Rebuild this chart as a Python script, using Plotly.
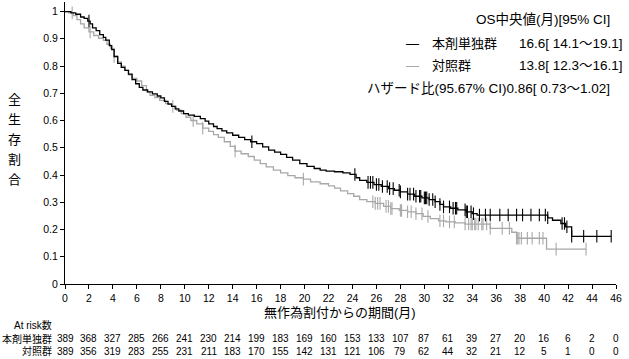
import numpy as np
import plotly.graph_objects as go

FONT = "Liberation Sans, Arial, Noto Sans CJK JP, sans-serif"

# --- Kaplan-Meier step points ---
months_a = [0, 0.5, 0.9, 1.3, 1.6, 1.9, 2.1, 2.3, 2.6, 2.9, 3.2, 3.4, 3.7, 3.9, 4.1, 4.4, 4.7,
            5.0, 5.3, 5.6, 5.9, 6.2, 6.5, 6.9, 7.3, 7.7, 8.0, 8.3, 8.6, 8.9, 9.2, 9.5, 9.9,
            10.3, 10.8, 11.3, 11.7, 12.0, 12.4, 12.7, 13.1, 13.5, 14.0, 14.5, 15.0, 15.5,
            16.0, 16.5, 17.0, 17.5, 18.0, 18.5, 19.0, 19.6, 20.2, 20.8, 21.3, 21.8, 22.5,
            23.2, 23.8, 24.3, 24.6, 25.2, 25.8, 26.4, 27.0, 27.5, 28.0, 28.6, 29.2, 29.8,
            30.4, 30.9, 31.3, 31.6, 32.2, 32.8, 33.5, 34.0, 34.4, 40.3, 40.7, 41.4, 41.8,
            42.3, 45.6]
surv_a = [1.0, 0.995, 0.99, 0.98, 0.975, 0.965, 0.955, 0.94, 0.93, 0.915, 0.905, 0.895,
          0.875, 0.86, 0.835, 0.81, 0.795, 0.784, 0.77, 0.75, 0.735, 0.722, 0.712, 0.705,
          0.698, 0.69, 0.683, 0.67, 0.66, 0.652, 0.643, 0.635, 0.625, 0.62, 0.615, 0.607,
          0.598, 0.588, 0.578, 0.57, 0.562, 0.555, 0.546, 0.538, 0.53, 0.522, 0.515, 0.503,
          0.491, 0.484, 0.476, 0.465, 0.455, 0.442, 0.432, 0.424, 0.418, 0.414, 0.412,
          0.408, 0.402, 0.39, 0.38, 0.373, 0.365, 0.358, 0.35, 0.344, 0.338, 0.33, 0.322,
          0.316, 0.31, 0.302, 0.292, 0.283, 0.278, 0.272, 0.265, 0.258, 0.253, 0.243,
          0.234, 0.222, 0.21, 0.175, 0.175]
censor_a = [2.0, 15.6, 24.2, 25.3, 25.5, 25.7, 26.0, 26.2, 26.5, 26.9, 27.1, 27.4, 27.9,
            28.0, 28.6, 28.8, 29.1, 29.3, 29.6, 29.7, 30.0, 30.1, 30.2, 30.4, 30.7, 30.9,
            31.3, 31.6, 32.1, 32.4, 32.6, 32.7, 33.4, 33.5, 33.6, 33.9, 34.1, 34.6, 35.1,
            35.5, 36.3, 37.0, 37.7, 38.2, 38.9, 39.6, 40.1, 40.3, 41.5, 41.7, 41.9, 42.3,
            43.3, 44.4, 45.6]

months_b = [0, 0.3, 0.7, 1.0, 1.3, 1.6, 2.0, 2.4, 2.8, 3.2, 3.5, 3.8, 4.1, 4.4, 4.7, 5.0,
            5.3, 5.6, 6.0, 6.4, 6.8, 7.1, 7.5, 7.9, 8.4, 8.9, 9.3, 9.7, 10.1, 10.5, 11.0,
            11.5, 12.0, 12.4, 12.8, 13.3, 13.8, 14.2, 14.7, 15.3, 15.8, 16.3, 16.8, 17.4,
            18.0, 18.6, 19.2, 19.9, 20.5, 21.3, 22.0, 22.5, 23.0, 23.6, 24.1, 24.6, 25.2,
            25.9, 26.6, 27.2, 27.9, 28.6, 29.3, 29.9, 30.5, 31.2, 31.8, 32.6, 33.4, 35.5,
            37.3, 37.7, 40.2, 43.5]
surv_b = [1.0, 0.995, 0.985, 0.97, 0.955, 0.94, 0.925, 0.912, 0.902, 0.894, 0.88, 0.865,
          0.835, 0.815, 0.8, 0.784, 0.768, 0.755, 0.745, 0.728, 0.705, 0.692, 0.684, 0.674,
          0.662, 0.652, 0.638, 0.625, 0.612, 0.6, 0.588, 0.572, 0.56, 0.548, 0.538, 0.522,
          0.505, 0.488, 0.478, 0.468, 0.455, 0.442, 0.43, 0.418, 0.408, 0.398, 0.39, 0.385,
          0.375, 0.368, 0.36, 0.352, 0.342, 0.332, 0.322, 0.31, 0.302, 0.296, 0.285, 0.277,
          0.27, 0.265, 0.258, 0.248, 0.24, 0.232, 0.228, 0.224, 0.22, 0.204, 0.19, 0.168,
          0.128, 0.128]
censor_b = [0.6, 2.1, 4.1, 9.0, 10.7, 11.5, 14.2, 19.9, 25.7, 25.9, 26.1, 26.3, 26.8, 27.0,
            27.2, 27.3, 28.0, 28.1, 28.6, 28.9, 29.3, 29.8, 30.3, 31.3, 31.6, 32.1, 32.5,
            33.4, 33.7, 33.9, 34.0, 34.2, 34.3, 34.5, 34.8, 34.9, 35.2, 35.5, 36.5, 37.1,
            37.7, 37.8, 37.9, 38.1, 38.6, 39.0, 39.6, 39.9, 41.0, 43.5]

risk_times = list(range(0, 47, 2))
risk_a = [389, 368, 327, 285, 266, 241, 230, 214, 199, 183, 169, 160, 153, 133, 107, 87, 61,
          39, 27, 20, 16, 6, 2, 0]
risk_b = [389, 356, 319, 283, 255, 231, 211, 183, 170, 155, 142, 131, 121, 106, 79, 62, 44,
          32, 21, 12, 5, 1, 0, 0]

group_names = ["本剤単独群", "対照群"]
median_texts = ["16.6[ 14.1～19.1]", "13.8[ 12.3～16.1]"]
header_text = "OS中央値(月)[95% CI]"
hr_text = "ハザード比(95.67% CI)0.86[ 0.73～1.02]"
x_title = "無作為割付からの期間(月)"
y_title = "全生存割合"
ytick_vals = [0, 0.1, 0.2, 0.3, 0.4, 0.5, 0.6, 0.7, 0.8, 0.9, 1.0]
ytick_text = ["0", "0.1", "0.2", "0.3", "0.4", "0.5", "0.6", "0.7", "0.8", "0.9", "1"]

COL_A = "#000000"
COL_B = "#a8a8a8"


def surv_at(months, surv, times):
    m = np.asarray(months)
    s = np.asarray(surv)
    idx = np.searchsorted(m, np.asarray(times), side="right") - 1
    idx = np.clip(idx, 0, len(s) - 1)
    return s[idx]


fig = go.Figure()
for months, surv, cens, col in [(months_b, surv_b, censor_b, COL_B),
                                (months_a, surv_a, censor_a, COL_A)]:
    fig.add_trace(go.Scatter(x=months, y=surv, mode="lines", line_shape="hv",
                             line=dict(color=col, width=1.3), hoverinfo="skip"))
    fig.add_trace(go.Scatter(x=cens, y=surv_at(months, surv, cens), mode="markers",
                             marker=dict(symbol="line-ns", size=9,
                                         line=dict(color=col, width=1.1)),
                             hoverinfo="skip"))

# plot area in pixels: x 65..616, y 2..284
L, R, T, B = 65, 616, 2, 284
W, H = R - L, B - T


def px(x):
    return (x - L) / W


def py(y):
    return (B - y) / H


LEG = 13.5
ann = []
# legend block
ann.append(dict(x=px(612), y=py(20), xref="paper", yref="paper", text=header_text,
                xanchor="right", yanchor="middle", showarrow=False, font=dict(size=LEG)))
rows_y = [43, 65]
for name, med, col, yy in zip(group_names, median_texts, [COL_A, COL_B], rows_y):
    ann.append(dict(x=px(404), y=py(yy), xref="paper", yref="paper",
                    text=f"<span style='color:{col}'>—</span>", xanchor="left",
                    yanchor="middle", showarrow=False, font=dict(size=13)))
    ann.append(dict(x=px(430), y=py(yy), xref="paper", yref="paper", text=name,
                    xanchor="left", yanchor="middle", showarrow=False, font=dict(size=13)))
    ann.append(dict(x=px(517), y=py(yy), xref="paper", yref="paper", text=med,
                    xanchor="left", yanchor="middle", showarrow=False, font=dict(size=LEG)))
ann.append(dict(x=px(612), y=py(88), xref="paper", yref="paper", text=hr_text,
                xanchor="right", yanchor="middle", showarrow=False, font=dict(size=LEG)))

# axis titles
ann.append(dict(x=px(340), y=py(312), xref="paper", yref="paper", text=x_title,
                xanchor="center", yanchor="middle", showarrow=False, font=dict(size=13)))
for i, ch in enumerate(y_title):
    ann.append(dict(x=px(14), y=py(99 + 20 * i), xref="paper", yref="paper", text=ch,
                    xanchor="center", yanchor="middle", showarrow=False, font=dict(size=13)))

# at-risk table
ann.append(dict(x=px(12), y=py(325), xref="paper", yref="paper", text="At risk数",
                xanchor="left", yanchor="middle", showarrow=False, font=dict(size=10)))
for name, vals, yy in zip(group_names, [risk_a, risk_b], [339, 351]):
    ann.append(dict(x=px(54), y=py(yy), xref="paper", yref="paper", text=name,
                    xanchor="right", yanchor="middle", showarrow=False, font=dict(size=10)))
    for t, v in zip(risk_times, vals):
        ann.append(dict(x=t, y=py(yy), xref="x", yref="paper", text=str(v),
                        xanchor="center", yanchor="middle", showarrow=False,
                        font=dict(size=10)))

fig.update_layout(
    width=629, height=359,
    margin=dict(l=L, r=629 - R, t=T, b=359 - B),
    plot_bgcolor="white", paper_bgcolor="white",
    showlegend=False,
    font=dict(family=FONT, size=10.5, color="black"),
    annotations=ann,
    xaxis=dict(range=[0, 46], tickvals=risk_times, ticks="outside", ticklen=4,
               tickcolor="black", showline=True, linecolor="black", linewidth=1,
               showgrid=False, zeroline=False, tickfont=dict(size=10.5)),
    yaxis=dict(range=[0, 1.035], tickvals=ytick_vals, ticktext=ytick_text,
               ticks="outside", ticklen=4, tickcolor="black", showline=True,
               linecolor="black", linewidth=1, showgrid=False, zeroline=False,
               tickfont=dict(size=10.5)),
)

fig.write_html("out.html", config={"displayModeBar": False},
               post_script="document.body.style.margin='0';document.body.style.overflow='hidden';")
